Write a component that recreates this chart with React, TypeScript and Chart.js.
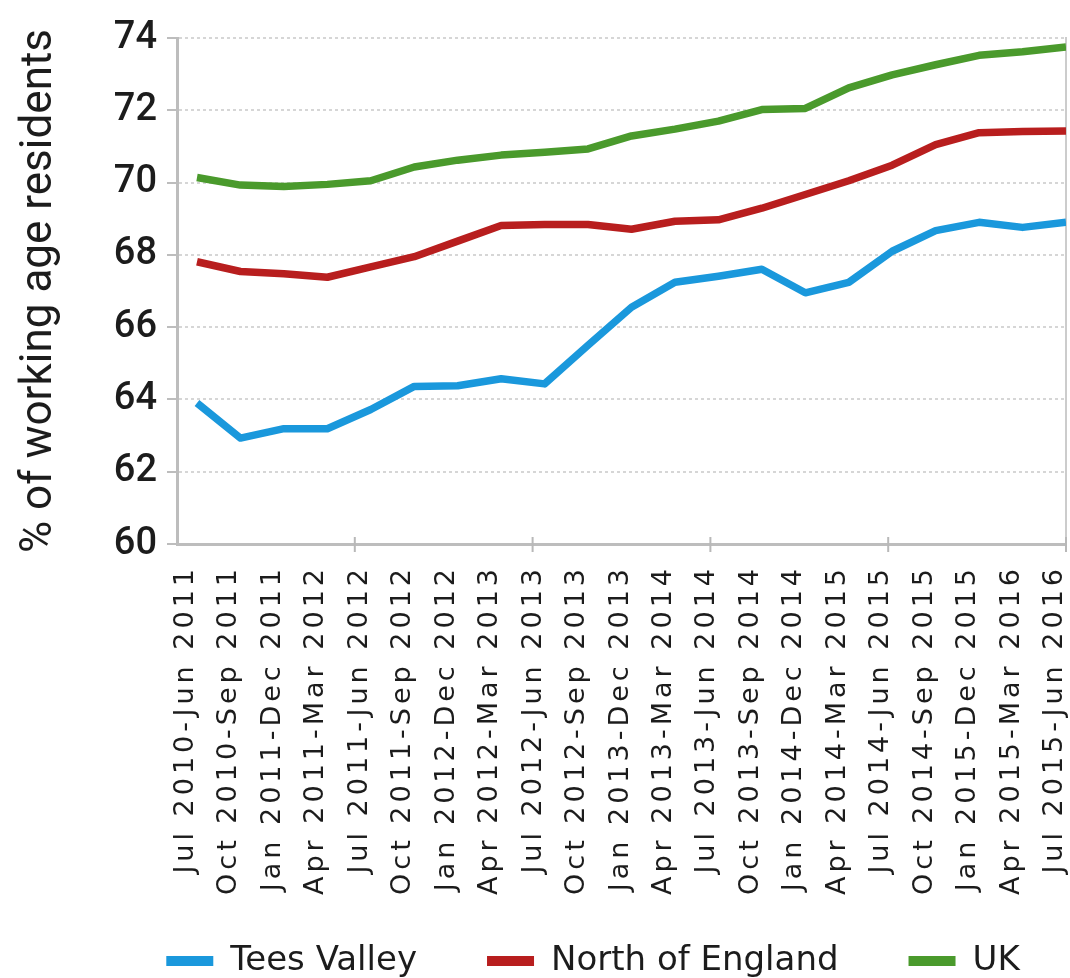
import React, { useEffect, useRef } from 'react';
import { Chart, registerables } from 'chart.js';

Chart.register(...registerables);

const xLabels = [
  'Jul 2010-Jun 2011', 'Oct 2010-Sep 2011', 'Jan 2011-Dec 2011', 'Apr 2011-Mar 2012',
  'Jul 2011-Jun 2012', 'Oct 2011-Sep 2012', 'Jan 2012-Dec 2012', 'Apr 2012-Mar 2013',
  'Jul 2012-Jun 2013', 'Oct 2012-Sep 2013', 'Jan 2013-Dec 2013', 'Apr 2013-Mar 2014',
  'Jul 2013-Jun 2014', 'Oct 2013-Sep 2014', 'Jan 2014-Dec 2014', 'Apr 2014-Mar 2015',
  'Jul 2014-Jun 2015', 'Oct 2014-Sep 2015', 'Jan 2015-Dec 2015', 'Apr 2015-Mar 2016',
  'Jul 2015-Jun 2016',
];

const teesValley = [63.9, 62.93, 63.19, 63.19, 63.72, 64.36, 64.38, 64.57, 64.43, 65.5, 66.55,
  67.24, 67.41, 67.6, 66.95, 67.24, 68.1, 68.67, 68.9, 68.76, 68.9];
const northOfEngland = [67.81, 67.54, 67.48, 67.38, 67.67, 67.95, 68.38, 68.81, 68.84, 68.84, 68.71,
  68.93, 68.97, 69.29, 69.67, 70.05, 70.48, 71.05, 71.38, 71.41, 71.43];
const uk = [70.14, 69.93, 69.89, 69.95, 70.05, 70.43, 70.62, 70.76, 70.84, 70.93, 71.29,
  71.48, 71.7, 72.02, 72.05, 72.62, 72.98, 73.26, 73.52, 73.62, 73.75];

const yTicks = [60, 62, 64, 66, 68, 70, 72, 74];
const seriesNames = ['Tees Valley', 'North of England', 'UK'];
const seriesColors = ['#1a98dc', '#b81e1e', '#4a9a2c'];
const yTitle = '% of working age residents';

const CANVAS_W = 1186;
const CANVAS_H = 988;
const TEXT = '#1c1c1c';

// tick marks on the category axis, and letter spacing for the rotated x labels
const xAxisExtras = {
  id: 'xAxisExtras',
  afterDatasetsDraw(chart: any) {
    (chart.ctx as any).letterSpacing = '4px';
  },
  afterDraw(chart: any) {
    const xs = chart.scales.x;
    const { ctx, chartArea } = chart;
    (ctx as any).letterSpacing = '0px';
    ctx.save();
    ctx.strokeStyle = '#b8b8b8';
    ctx.lineWidth = 2;
    for (let k = 1; k <= 5; k++) {
      const px = xs.getPixelForValue(xs.min + (k * (xs.max - xs.min)) / 5);
      ctx.beginPath();
      ctx.moveTo(px, chartArea.bottom - 7);
      ctx.lineTo(px, chartArea.bottom + 8);
      ctx.stroke();
    }
    ctx.restore();
  },
};

export default function App() {
  const ref = useRef<HTMLCanvasElement>(null);

  useEffect(() => {
    if (!ref.current) return;
    const toPts = (arr: number[]) => arr.map((v, i) => ({ x: i, y: v }));
    const series = [teesValley, northOfEngland, uk];
    const chart = new Chart(ref.current, {
      type: 'line',
      data: {
        datasets: series.map((s, i) => ({
          label: seriesNames[i],
          data: toPts(s),
          borderColor: seriesColors[i],
          backgroundColor: seriesColors[i],
          borderWidth: 7.5,
          pointRadius: 0,
          tension: 0,
          borderJoinStyle: 'round' as const,
        })),
      },
      options: {
        animation: false,
        responsive: false,
        maintainAspectRatio: false,
        devicePixelRatio: 1,
        layout: { padding: { top: 38, left: 0, right: 0, bottom: 0 } },
        plugins: {
          tooltip: { enabled: false },
          legend: {
            position: 'bottom',
            labels: {
              boxWidth: 47,
              boxHeight: 10,
              padding: 70,
              color: TEXT,
              font: { family: '"DejaVu Sans", sans-serif', size: 34 },
              generateLabels: (c: any) =>
                (Chart.defaults.plugins.legend.labels as any).generateLabels(c).map((l: any) => ({ ...l, lineWidth: 0 })),
            },
          },
        },
        scales: {
          x: {
            type: 'linear',
            min: -0.46,
            max: 20,
            afterBuildTicks: (s: any) => {
              s.ticks = xLabels.map((_, i) => ({ value: i }));
            },
            afterFit: (s: any) => {
              s.height = 330;
              // let the long rotated labels run down towards the legend, as in the original
              s._computeLabelArea = () => undefined;
            },
            ticks: {
              z: 1,
              autoSkip: false,
              maxRotation: 90,
              minRotation: 90,
              padding: 13,
              labelOffset: -11,
              color: TEXT,
              font: { family: '"DejaVu Sans", sans-serif', size: 27 },
              callback: (v: any) => xLabels[v as number],
            },
            grid: { display: false },
            border: { display: true, color: '#bdbdbd', width: 3 },
          },
          y: {
            min: 60,
            max: 74,
            afterBuildTicks: (s: any) => {
              s.ticks = yTicks.map((v) => ({ value: v }));
            },
            afterFit: (s: any) => {
              s.width = 177;
            },
            ticks: {
              padding: 10,
              color: TEXT,
              font: { family: 'Roboto, sans-serif', size: 38, weight: '500' },
            },
            grid: { color: '#d6d6d6', lineWidth: 2, tickLength: 10, tickColor: '#bdbdbd', tickWidth: 2 },
            border: { display: true, color: '#bdbdbd', width: 3, dash: [3, 3] },
            title: {
              display: true,
              text: yTitle,
              color: TEXT,
              padding: { top: 14, bottom: 0 },
              font: { family: 'Roboto, sans-serif', size: 44 },
            },
          },
          y2: {
            position: 'right',
            min: 60,
            max: 74,
            afterFit: (s: any) => {
              s.width = CANVAS_W - 1066;
            },
            ticks: { display: false },
            grid: { display: false },
            border: { display: true, color: '#cccccc', width: 2 },
          },
        },
      },
      plugins: [xAxisExtras],
    } as any);
    return () => chart.destroy();
  }, []);

  return (
    <div style={{ position: 'fixed', left: 0, top: 0, width: 1070, height: 978, overflow: 'hidden', background: '#fff' }}>
      <canvas ref={ref} width={CANVAS_W} height={CANVAS_H} style={{ display: 'block', width: CANVAS_W, height: CANVAS_H }} />
    </div>
  );
}
